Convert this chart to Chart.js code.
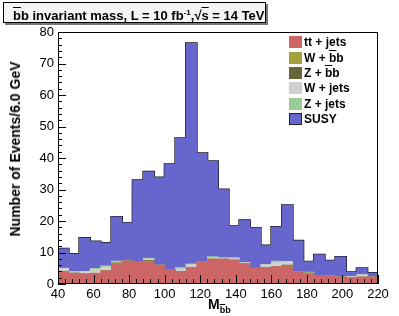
<!DOCTYPE html>
<html>
<head>
<meta charset="utf-8">
<script src="https://cdn.jsdelivr.net/npm/chart.js@4.4.1/dist/chart.umd.min.js"></script>
<style>
  body { margin: 0; background: #fff; font-family: "Liberation Sans", Arial, sans-serif; }
  #wrap { position: relative; width: 399px; height: 316px; }
  canvas { position: absolute; left: 0; top: 0; }
  .ov { position: absolute; font-weight: bold; color: #000; white-space: nowrap; }
  .bar { text-decoration: overline; }
  #title { left: 3px; top: 2px; width: 252px; height: 19px; border: 1px solid #000;
           background: #f4f4f4; box-shadow: 2px 2px 0 #777; font-size: 13px; line-height: 19px; padding-left: 9px; box-sizing: content-box; }
  #ytitle { left: 15px; top: 149px; font-size: 14px; transform: translate(-50%, -50%) rotate(-90deg); }
  #xtitle { left: 208px; top: 296px; font-size: 14px; }
  #xtitle sub { font-size: 9px; vertical-align: -4px; }
  .leg { position: absolute; left: 289px; font-size: 12px; font-weight: bold; line-height: 12px; white-space: nowrap; }
  .sw { display: inline-block; width: 13px; height: 12px; vertical-align: top; margin-right: 2px; box-sizing: border-box; }
</style>
</head>
<body>
<div id="wrap">
  <canvas id="chart" width="399" height="316"></canvas>
  <div class="ov" id="title"><span class="bar">b</span>b invariant mass, L = 10 fb<sup style="font-size:8px">-1</sup>,√<span class="bar">s</span> = 14 TeV</div>
  <div class="ov" id="ytitle">Number of Events/6.0 GeV</div>
  <div class="ov" id="xtitle">M<sub><span class="bar">b</span>b</sub></div>
  <div id="legend"></div>
</div>
<script>
// 6 GeV bins from 40 to 220
const binLow = 40;
const binWidth = 6;
const nBins = 30;

const ttJets = [4.0, 3.3, 3.2, 3.4, 4.2, 6.5, 7.3, 7.2, 7.0, 6.0, 4.6, 4.0, 5.3, 7.0, 7.9,
                7.9, 7.6, 6.4, 5.0, 5.2, 5.5, 5.5, 3.8, 3.2, 2.7, 2.5, 2.2, 2.0, 2.2, 2.2];
const wbb    = [0, 0, 0, 0, 0, 0.2, 0, 0, 0.3, 0, 0, 0, 0, 0, 0,
                0, 0, 0, 0, 0, 0, 0.3, 0, 0.3, 0, 0, 0, 0, 0, 0];
const zbb    = [0, 0.2, 0, 0, 0, 0, 0, 0, 0.2, 0, 0, 0, 0, 0, 0,
                0, 0, 0, 0, 0, 0, 0.2, 0, 0, 0, 0, 0, 0, 0, 0];
const wJets  = [1.0, 0.3, 0.8, 1.2, 1.2, 0.3, 0, 0, 0.5, 0, 0, 0.8, 0.9, 0, 0.5,
                0.4, 0.5, 0.4, 0, 1.0, 1.4, 1.2, 0, 0, 0, 0, 0, 0.4, 0.8, 0];
const zJets  = [0, 0.2, 0, 0.4, 0.4, 0.3, 0, 0, 0.2, 0, 0, 0.5, 0.2, 0, 0.3,
                0, 0.3, 0, 0, 0, 0.4, 0, 0, 0.3, 0, 0, 0, 0, 0, 0];
const susy   = [6.2, 5.5, 10.6, 8.5, 7.2, 14.0, 12.1, 25.7, 27.4, 27.8, 33.4, 41.0, 70.0, 34.5, 30.3,
                21.7, 9.9, 13.4, 12.8, 6.0, 10.8, 17.8, 9.9, 3.3, 6.6, 4.9, 6.4, 1.3, 2.0, 1.3];

const xTicks = [40, 60, 80, 100, 120, 140, 160, 180, 200, 220];
const yTicks = [0, 10, 20, 30, 40, 50, 60, 70, 80];

const series = [
  { label: "tt + jets", html: "tt + jets", data: ttJets, color: "#cc6666" },
  { label: "W + bb", html: "W + <span class='bar'>b</span>b", data: wbb, color: "#a3a33d" },
  { label: "Z + bb", html: "Z + <span class='bar'>b</span>b", data: zbb, color: "#66663a" },
  { label: "W + jets", html: "W + jets", data: wJets, color: "#d0d0d0" },
  { label: "Z + jets", html: "Z + jets", data: zJets, color: "#99cc99" },
  { label: "SUSY", html: "SUSY", data: susy, color: "#6666cc" },
];

const centres = [];
for (let i = 0; i < nBins; i++) centres.push(binLow + binWidth * (i + 0.5));

const totals = centres.map((c, i) => series.reduce((s, d) => s + d.data[i], 0));
const outline = [];
for (let i = 0; i < nBins; i++) outline.push({ x: binLow + binWidth * i, y: totals[i] });
outline.push({ x: binLow + binWidth * nBins, y: totals[nBins - 1] });

const datasets = series.map((s) => ({
  type: "bar",
  label: s.label,
  data: s.data.map((v, i) => ({ x: centres[i], y: v })),
  backgroundColor: s.color,
  borderWidth: 0,
  barPercentage: 1,
  categoryPercentage: 1,
  stack: "mc",
}));
datasets.push({
  type: "line",
  label: "outline",
  data: outline,
  stepped: "before",
  borderColor: "#1a1a1a",
  borderWidth: 2,
  pointRadius: 0,
  fill: false,
  stack: "outline",
});

// legend
const legend = document.getElementById("legend");
const legTops = [36, 52, 67, 82, 98, 113];
series.forEach((s, i) => {
  const d = document.createElement("div");
  d.className = "leg";
  d.style.top = legTops[i] + "px";
  const border = s.label === "SUSY" ? "border:1px solid #222;" : "";
  d.innerHTML = `<span class="sw" style="background:${s.color};${border}"></span>${s.html}`;
  legend.appendChild(d);
});

// inward ticks and frame, ROOT style
const frame = {
  id: "frame",
  afterDraw(chart) {
    const { ctx, chartArea: a, scales } = chart;
    ctx.save();
    ctx.strokeStyle = "#000";
    ctx.lineWidth = 1;
    ctx.beginPath();
    for (let v = 40; v <= 220; v += 4) {
      const px = Math.round(scales.x.getPixelForValue(v)) + 0.5;
      const len = v % 20 === 0 ? 9 : 5;
      ctx.moveTo(px, a.bottom);
      ctx.lineTo(px, a.bottom - len);
    }
    for (let v = 0; v <= 80; v += 2) {
      const py = Math.round(scales.y.getPixelForValue(v)) + 0.5;
      const len = v % 10 === 0 ? 8 : 4;
      ctx.moveTo(a.left, py);
      ctx.lineTo(a.left + len, py);
    }
    ctx.stroke();
    ctx.strokeRect(a.left + 0.5, a.top + 0.5, a.right - a.left - 1, a.bottom - a.top - 1);
    ctx.restore();
  },
};

new Chart(document.getElementById("chart"), {
  data: { datasets: datasets },
  options: {
    responsive: false,
    animation: false,
    devicePixelRatio: 1,
    layout: { padding: { left: 0, right: 21, top: 32, bottom: 0 } },
    plugins: { legend: { display: false }, tooltip: { enabled: false } },
    scales: {
      x: {
        type: "linear",
        min: 40,
        max: 220,
        stacked: true,
        offset: false,
        afterFit: (s) => { s.height = 32; },
        afterBuildTicks: (s) => { s.ticks = xTicks.map((v) => ({ value: v })); },
        grid: { display: false, drawTicks: false },
        border: { display: false },
        ticks: { color: "#000", font: { family: "Liberation Sans", size: 13 }, padding: 3, maxRotation: 0, autoSkip: false },
      },
      y: {
        min: 0,
        max: 80,
        stacked: true,
        afterFit: (s) => { s.width = 58; },
        afterBuildTicks: (s) => { s.ticks = yTicks.map((v) => ({ value: v })); },
        grid: { display: false, drawTicks: false },
        border: { display: false },
        ticks: { color: "#000", font: { family: "Liberation Sans", size: 13 }, padding: 4 },
      },
    },
  },
  plugins: [frame],
});
</script>
</body>
</html>
